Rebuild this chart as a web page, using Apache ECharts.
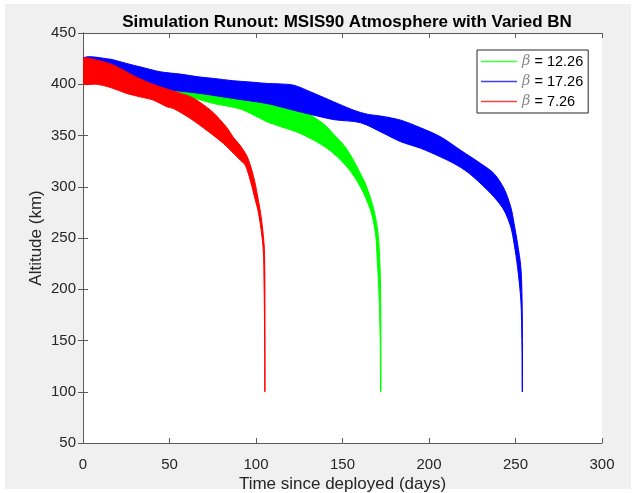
<!DOCTYPE html>
<html><head><meta charset="utf-8">
<script src="https://cdn.jsdelivr.net/npm/echarts@6/dist/echarts.min.js"></script>
<style>html,body{margin:0;padding:0;background:#fff}#c{width:636px;height:493px}</style>
</head><body><div id="c"></div>
<script>
// Legend / series names and colours (legend order: green, blue, red)
const seriesNames = ['β = 12.26', 'β = 17.26', 'β = 7.26'];
const seriesColors = ['#00ff00', '#0000ff', '#ff0000'];

// Axis ticks
const xTicks = [0, 50, 100, 150, 200, 250, 300];
const yTicks = [50, 100, 150, 200, 250, 300, 350, 400, 450];

// Band envelopes [time (days), altitude (km)]
const greenUpper = [[0,420],[30,412],[60,400],[90,393],[110,386],[125.7,376],[133.4,368],[140,360],[145,351],[151,340],[156,327],[160,314],[163,304],[166,290],[168.5,275],[170.5,255],[171.5,230],[172,200],[172.2,150],[172.2,100]];
const greenLower = [[0,406],[25,400],[50.4,394.3],[62,387.7],[75.5,381.2],[91,375.8],[102.5,366.6],[106.4,363.3],[114,358.8],[125.7,351.9],[141.1,337.5],[152.7,319.2],[160.4,299.7],[166.2,277],[169.1,254],[170.1,228],[171,200],[171.8,150],[172,100]];

const blueUpper = [[0,425.5],[15.6,424.5],[21.4,422],[29.1,418.6],[33,417],[44.6,412.2],[56.2,409.9],[67.8,407],[75.5,405.7],[87,403.4],[96.7,402.2],[106.4,400.8],[114,400.3],[121.8,399.1],[131.5,392.6],[145,382.8],[156.5,374.7],[164.3,370.8],[172,369],[183.6,365],[195.2,357.5],[206.8,348.6],[218.3,335.6],[229.9,322.6],[237.6,312.8],[243.4,298.1],[247.3,280.1],[249.2,263.9],[251.2,244.3],[253.1,221.4],[253.8,190],[254,150],[254,100]];
const blueLower = [[0,406],[25,399],[50.4,394.3],[67.8,391],[87,386.1],[106.4,381.2],[114,378],[125.7,373],[145,365.5],[160.4,362.5],[173.9,352],[183.6,344],[195.2,337.5],[206.8,329],[214.5,322.6],[222.2,314.4],[229.9,303],[237.6,290],[243.4,276.9],[247.3,260.6],[249.2,244.3],[251.2,221.4],[253.1,188.9],[253.7,150],[253.9,100]];

const redUpper = [[0,425],[8,423.5],[15.6,420],[22,415],[29,408.5],[36,403],[44.6,397.5],[56,391.3],[62,388],[68,382],[75.5,372],[83,358],[87,348],[91,340],[95,329],[98.6,310],[100.8,292],[102.6,275],[103.9,258],[104.8,240],[105.1,215],[105.2,150],[105.2,100]];
const redLower = [[0,401],[8,400],[15.6,397],[25.3,391],[33,387.7],[40.7,384.5],[48.5,378],[52.3,376.3],[62,366.6],[71.6,355],[81.3,342],[91,325.8],[93.8,321],[96.7,306],[99.6,287],[101.5,274],[104.1,241],[104.7,200],[105,150],[105.1,100]];

const bands = [
  {upper: greenUpper, lower: greenLower},
  {upper: blueUpper, lower: blueLower},
  {upper: redUpper, lower: redLower}
];

const font = 'Liberation Sans, Arial, sans-serif';
const axisCol = '#5a5a5a';
const textCol = '#262626';

function makeRender(color) {
  return function (params, api) {
    if (params.dataIndex !== 0) return null;
    const n = params.dataInsideLength;
    const pts = [];
    for (let i = 0; i < n; i++) pts.push(api.coord([api.value(0, i), api.value(1, i)]));
    return {type: 'polygon', shape: {points: pts, smooth: 0.3}, style: {fill: color, stroke: color, lineWidth: 1}};
  };
}

function baseAxis(extra) {
  return Object.assign({
    type: 'value',
    axisLine: {show: true, lineStyle: {color: axisCol, width: 1}},
    axisTick: {show: true, inside: true, length: 5, lineStyle: {color: axisCol}},
    splitLine: {show: false},
    axisLabel: {show: false},
    nameMoveOverlap: false
  }, extra);
}

const chart = echarts.init(document.getElementById('c'), null, {renderer: 'canvas'});
chart.setOption({
  animation: false,
  backgroundColor: '#ffffff',
  graphic: [{type: 'rect', z: -100, silent: true, shape: {x: 5, y: 4, width: 626, height: 485}, style: {fill: '#f0f0f0'}}],
  title: {
    text: 'Simulation Runout: MSIS90 Atmosphere with Varied BN',
    left: 342, top: 9, textAlign: 'center',
    textStyle: {fontFamily: font, fontSize: 17, fontWeight: 'bold', color: '#000'}
  },
  grid: {left: 83, top: 33, width: 519, height: 410, show: true, backgroundColor: '#ffffff', borderWidth: 0,
    outerBoundsMode: 'none', containLabel: false},
  xAxis: [
    baseAxis({min: xTicks[0], max: xTicks[xTicks.length - 1], interval: 50, position: 'bottom',
      name: 'Time since deployed (days)', nameLocation: 'middle', nameGap: 33,
      nameTextStyle: {fontFamily: font, fontSize: 17, color: textCol},
      axisLabel: {show: true, margin: 14, fontFamily: font, fontSize: 15, color: textCol}}),
    baseAxis({min: xTicks[0], max: xTicks[xTicks.length - 1], interval: 50, position: 'top'})
  ],
  yAxis: [
    baseAxis({min: yTicks[0], max: yTicks[yTicks.length - 1], interval: 50, position: 'left',
      name: 'Altitude (km)', nameLocation: 'middle', nameGap: 38,
      nameTextStyle: {fontFamily: font, fontSize: 17, color: textCol},
      axisLabel: {show: true, margin: 7, fontFamily: font, fontSize: 15, color: textCol}}),
    baseAxis({min: yTicks[0], max: yTicks[yTicks.length - 1], interval: 50, position: 'right'})
  ],
  legend: {
    orient: 'vertical', left: 477, top: 50, padding: [4, 5, 4, 4], itemGap: 5,
    itemWidth: 36, itemHeight: 1.5, icon: 'rect',
    backgroundColor: '#ffffff', borderColor: '#262626', borderWidth: 1, borderRadius: 0,
    data: seriesNames.map((n, i) => ({name: n, itemStyle: {color: seriesColors[i], opacity: 0.75}})),
    formatter: n => '{b|β}' + n.slice(1),
    textStyle: {fontFamily: font, fontSize: 14.5, color: '#000',
      rich: {b: {fontFamily: 'DejaVu Serif', fontStyle: 'italic', color: '#8c8c8c', fontSize: 14.5}}}
  },
  series: bands.map((b, i) => ({
    type: 'custom',
    name: seriesNames[i],
    xAxisIndex: 0, yAxisIndex: 0,
    clip: true,
    itemStyle: {color: seriesColors[i]},
    renderItem: makeRender(seriesColors[i]),
    data: b.upper.concat(b.lower.slice().reverse()),
    silent: true
  }))
});
</script></body></html>
